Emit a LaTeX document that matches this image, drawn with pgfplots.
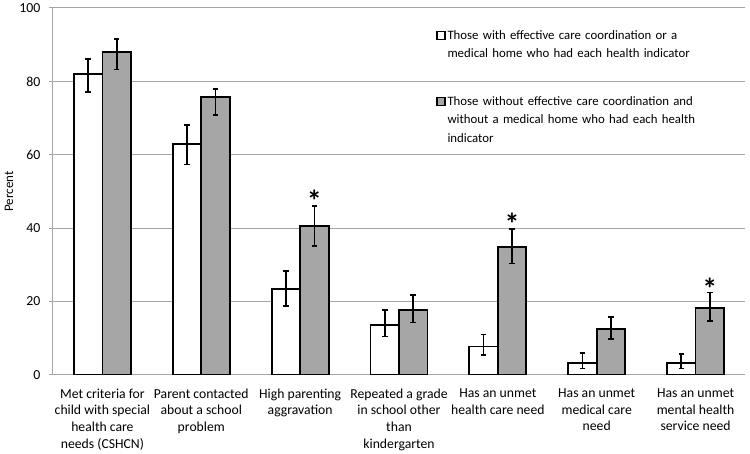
\documentclass[border=0pt]{standalone}
\usepackage{pgfplots}
\pgfplotsset{compat=1.18}
\usetikzlibrary{calc}
\usepackage{fontspec}
\setmainfont{Carlito}
\definecolor{barGray}{HTML}{A6A6A6}
\definecolor{lineGray}{HTML}{A6A6A6}

\begin{document}
\begin{tikzpicture}
\begin{axis}[
  scale only axis, width=692pt, height=366.7pt,
  xmin=-0.5, xmax=6.5, ymin=0, ymax=100,
  ybar=0pt, bar width=28.5pt,
  axis x line*=bottom, axis y line*=left,
  axis line style={lineGray, line width=1pt},
  ytick={0,20,...,100}, ymajorgrids, grid style={lineGray, line width=1pt},
  ytick style={lineGray, line width=1pt},
  tick align=outside, major tick length=4pt,
  xtick={0,...,6},
  xtick style={draw=none},
  extra x ticks={-0.5,0.5,...,6.5}, extra x tick labels={},
  extra x tick style={draw=lineGray, line width=1pt, grid=none},
  xticklabels={Met criteria for\\child with special\\health care\\needs (CSHCN),
    Parent contacted\\about a school\\problem,
    High parenting\\aggravation,
    Repeated a grade\\in school other\\than\\kindergarten,
    Has an unmet\\health care need,
    Has an unmet\\medical care\\need,
    Has an unmet\\mental health\\service need},
  xticklabel style={align=center, font=\fontsize{13.7}{16.7}\selectfont, yshift=-6.5pt},
  yticklabel style={font=\fontsize{13.8}{16}\selectfont, xshift=-5pt},
  /pgf/number format/assume math mode=true,
  ylabel={Percent},
  ylabel style={font=\fontsize{13}{15}\selectfont, at={(axis description cs:-0.0636,0.5)}, anchor=center},
  legend style={at={(rel axis cs:0.549,0.951)}, anchor=north west, draw=none, fill=none,
    font=\fontsize{12.8}{18.3}\selectfont, row sep=52pt,
    cells={anchor=west, align=left, text width=300pt}},
  legend cell align=left,
  every axis plot/.append style={
    error bars/y dir=both, error bars/y explicit,
    error bars/error bar style={black, line width=1.7pt},
    error bars/error mark options={black, rotate=90, mark size=2.8pt, line width=1.7pt}},
]
\addplot[fill=white, draw=black, line width=1.8pt, bar shift=-14.25pt,
  legend image code/.code={\draw[fill=white, draw=black, line width=1.4pt] (0pt,-4pt) rectangle (8pt,4pt);}]
  coordinates {
  (0,82.0) += (0,4.1) -= (0,4.9)
  (1,62.9) += (0,5.2) -= (0,5.6)
  (2,23.3) += (0,4.9) -= (0,4.5)
  (3,13.6) += (0,4.0) -= (0,3.2)
  (4,7.7) += (0,3.3) -= (0,2.3)
  (5,3.3) += (0,2.7) -= (0,1.6)
  (6,3.1) += (0,2.5) -= (0,1.4)
  };
\addlegendentry{Those with effective care coordination or a\\medical home who had each health indicator}
\addplot[fill=barGray, draw=black, line width=1.8pt, bar shift=14.25pt,
  legend image code/.code={\draw[fill=barGray, draw=black, line width=1.4pt] (0pt,-4pt) rectangle (8pt,4pt);}]
  coordinates {
  (0,87.9) += (0,3.6) -= (0,4.7)
  (1,75.7) += (0,2.3) -= (0,4.9)
  (2,40.6) += (0,5.4) -= (0,5.5)
  (3,17.6) += (0,4.1) -= (0,3.4)
  (4,34.8) += (0,5.0) -= (0,4.5)
  (5,12.5) += (0,3.3) -= (0,2.8)
  (6,18.2) += (0,4.2) -= (0,3.5)
  };
\addlegendentry{Those without effective care coordination and\\without a medical home who had each health\\indicator}
% significance markers
\addplot[draw=none, fill=none, forget plot, bar shift=14.25pt,
  error bars/y dir=none,
  nodes near coords={\textbf{*}},
  every node near coord/.append style={anchor=center, font=\fontsize{30}{30}\selectfont, yshift=-7.5pt}]
  coordinates {(2,49.5) (4,43.3) (6,25.6)};
\path (rel axis cs:0,0) coordinate (ll) (rel axis cs:1,1) coordinate (ur);
\end{axis}
\pgfresetboundingbox
\path[use as bounding box] ($(ll)+(-53pt,-78.3pt)$) rectangle ($(ur)+(5pt,8pt)$);
\end{tikzpicture}
\end{document}
